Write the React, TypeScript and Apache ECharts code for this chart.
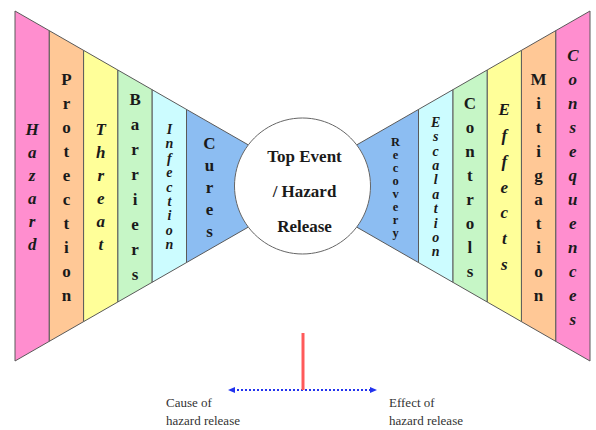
import React, { useEffect, useRef } from "react";
import * as echarts from "echarts";

// ---- diagram content ----
// cause side, listed from the outer edge towards the centre
const causeLabels = ["Hazard", "Protection", "Threat", "Barriers", "Infection", "Cures"];
// effect side, listed from the outer edge towards the centre
const effectLabels = ["Consequences", "Mitigation", "Effects", "Controls", "Escalation", "Recovery"];
const centreLines = ["Top Event", "/ Hazard", "Release"];
const timelineLabels = ["Cause of\nhazard release", "Effect of\nhazard release"];

// ---- layout / style (not data) ----
const bandColors = ["#FF8ECF", "#FFC896", "#FFFF99", "#C6F6C6", "#CCFCFF", "#8CBDF2"];
const causeItalic = [true, false, true, false, true, false];
const effectItalic = [true, false, true, false, true, false];
const causeLineH = [23, 24, 23, 25, 14.4, 22];
const effectLineH = [24, 24, 25.7, 24, 14.4, 13];
const causeFont = [17, 17, 17, 17, 14, 17];
const effectFont = [17, 17, 17, 17, 14, 12.5];

const X0 = 15;
const X1 = 590;
const COL_W = 34.3;
const CX = 302.5;
const CY = 186;
const R = 68;
const TIP_D = 57.5;
const TIP_HALF = 43;
const OUT_HALF = 175;
const SERIF = "Liberation Serif";

function half(x: number) {
  const d = Math.abs(x - CX);
  return TIP_HALF + (d - TIP_D) * ((OUT_HALF - TIP_HALF) / (X1 - CX - TIP_D));
}

export default function App() {
  const ref = useRef<HTMLDivElement>(null);
  useEffect(() => {
    document.body.style.margin = "0";
    const chart = echarts.init(ref.current!, null, { renderer: "svg" });

    const bandData: any[] = [];
    causeLabels.forEach((name, i) => bandData.push({ name, value: [0, i] }));
    effectLabels.forEach((name, i) => bandData.push({ name, value: [1, i] }));

    const option: any = {
      animation: false,
      grid: { left: 0, right: 0, top: 0, bottom: 0 },
      xAxis: { type: "value", min: 0, max: 596, show: false },
      yAxis: { type: "value", min: 0, max: 430, inverse: true, show: false },
      series: [
        {
          type: "custom",
          coordinateSystem: "cartesian2d",
          data: bandData,
          silent: true,
          renderItem: (params: any, api: any) => {
            const side = api.value(0);
            const i = api.value(1);
            const name = bandData[params.dataIndex].name as string;
            let xa: number, xb: number, tx: number;
            if (side === 0) {
              xa = X0 + i * COL_W;
              xb = i === 5 ? CX - 30 : X0 + (i + 1) * COL_W;
              tx = i === 5 ? (xa + (CX - R)) / 2 - 1 : (xa + xb) / 2;
            } else {
              xb = X1 - i * COL_W;
              xa = i === 5 ? CX + 30 : X1 - (i + 1) * COL_W;
              tx = i === 5 ? (xb + (CX + R)) / 2 + 1 : (xa + xb) / 2;
            }
            const pts = [
              [xa, CY - half(xa)],
              [xb, CY - half(xb)],
              [xb, CY + half(xb)],
              [xa, CY + half(xa)],
            ].map((p) => api.coord(p));
            const italic = side === 0 ? causeItalic[i] : effectItalic[i];
            const lh = side === 0 ? causeLineH[i] : effectLineH[i];
            const fs = side === 0 ? causeFont[i] : effectFont[i];
            const tp = api.coord([tx, CY + 1]);
            return {
              type: "group",
              children: [
                {
                  type: "polygon",
                  shape: { points: pts },
                  style: { fill: bandColors[i], stroke: "#5a5a5a", lineWidth: 1 },
                },
                {
                  type: "text",
                  x: tp[0],
                  y: tp[1],
                  style: {
                    text: name.split("").join("\n"),
                    fill: "#1a1a1a",
                    fontFamily: SERIF,
                    fontSize: fs,
                    fontWeight: "bold",
                    fontStyle: italic ? "italic" : "normal",
                    lineHeight: lh,
                    align: "center",
                    verticalAlign: "middle",
                  },
                },
              ],
            };
          },
        },
        {
          type: "custom",
          coordinateSystem: "cartesian2d",
          data: [[CX, CY]],
          silent: true,
          renderItem: (params: any, api: any) => {
            const c = api.coord([api.value(0), api.value(1)]);
            const r = api.size([R, 0])[0];
            return {
              type: "group",
              children: [
                {
                  type: "circle",
                  shape: { cx: c[0], cy: c[1], r },
                  style: { fill: "#ffffff", stroke: "#666666", lineWidth: 1 },
                },
                {
                  type: "text",
                  x: c[0] + 2,
                  y: c[1] + 5,
                  style: {
                    text: centreLines.join("\n"),
                    fill: "#1a1a1a",
                    fontFamily: SERIF,
                    fontSize: 17,
                    fontWeight: "bold",
                    lineHeight: 35,
                    align: "center",
                    verticalAlign: "middle",
                  },
                },
              ],
            };
          },
        },
        {
          type: "custom",
          coordinateSystem: "cartesian2d",
          data: [[228, 377, 390]],
          silent: true,
          renderItem: (params: any, api: any) => {
            const a = api.coord([api.value(0), api.value(2)]);
            const b = api.coord([api.value(1), api.value(2)]);
            const top = api.coord([CX, 333]);
            const mid = (a[0] + b[0]) / 2 + 0.5;
            const blue = "#2233EE";
            return {
              type: "group",
              children: [
                {
                  type: "line",
                  shape: { x1: a[0] + 5, y1: a[1], x2: b[0] - 5, y2: b[1] },
                  style: { stroke: blue, lineWidth: 2, lineDash: [2, 2] },
                },
                {
                  type: "polygon",
                  shape: { points: [[a[0], a[1]], [a[0] + 7, a[1] - 3], [a[0] + 7, a[1] + 3]] },
                  style: { fill: blue },
                },
                {
                  type: "polygon",
                  shape: { points: [[b[0], b[1]], [b[0] - 7, b[1] - 3], [b[0] - 7, b[1] + 3]] },
                  style: { fill: blue },
                },
                {
                  type: "line",
                  shape: { x1: mid, y1: top[1], x2: mid, y2: a[1] },
                  style: { stroke: "#FF5A5A", lineWidth: 3 },
                },
                {
                  type: "text",
                  x: 166,
                  y: 411,
                  style: {
                    text: timelineLabels[0],
                    fill: "#333333",
                    fontFamily: SERIF,
                    fontSize: 13,
                    lineHeight: 18,
                    align: "left",
                    verticalAlign: "middle",
                  },
                },
                {
                  type: "text",
                  x: 389,
                  y: 411,
                  style: {
                    text: timelineLabels[1],
                    fill: "#333333",
                    fontFamily: SERIF,
                    fontSize: 13,
                    lineHeight: 18,
                    align: "left",
                    verticalAlign: "middle",
                  },
                },
              ],
            };
          },
        },
      ],
    };
    chart.setOption(option);
    return () => chart.dispose();
  }, []);
  return <div ref={ref} style={{ width: 596, height: 430 }} />;
}
